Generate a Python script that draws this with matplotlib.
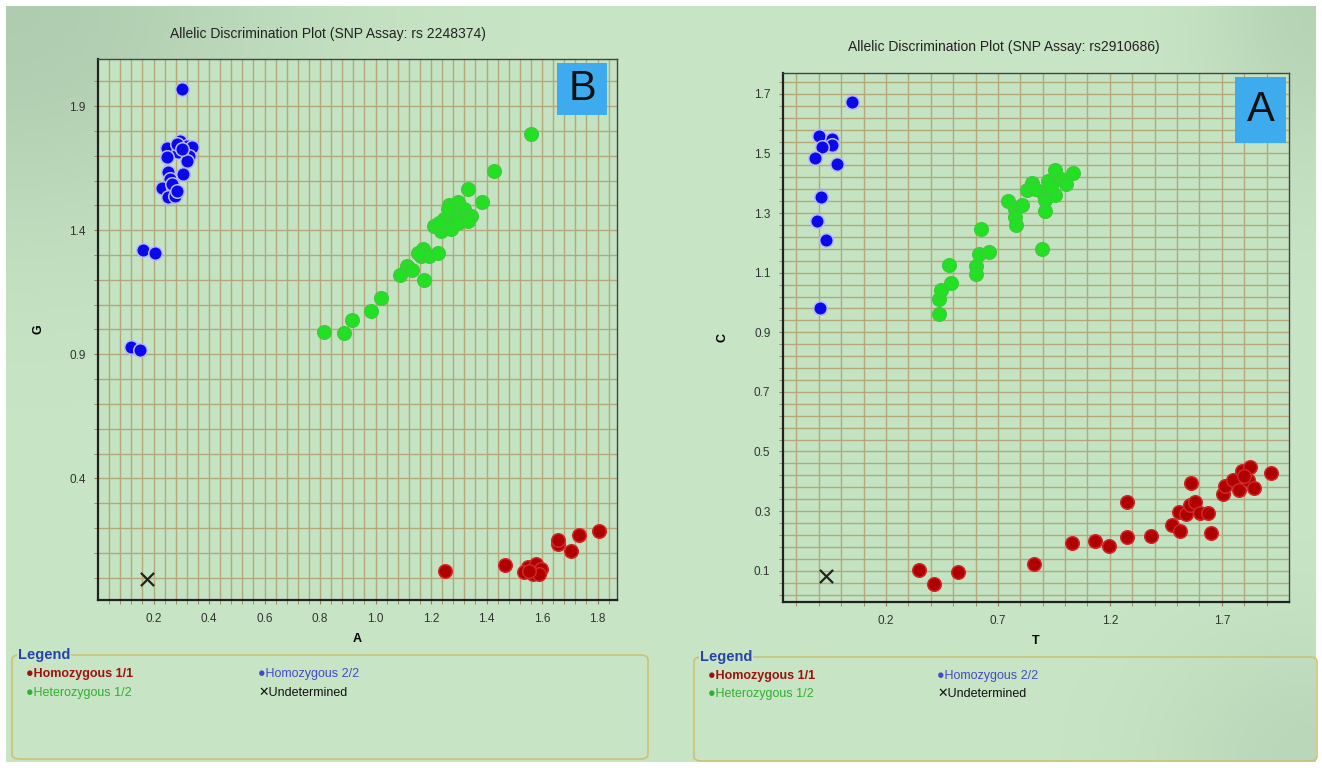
#!/usr/bin/env python3
"""Two allelic discrimination scatter plots (SNP assays) side by side."""

import matplotlib

matplotlib.use("Agg")
import matplotlib.pyplot as plt
from matplotlib.patches import FancyBboxPatch, Rectangle
from matplotlib.ticker import FixedLocator
import numpy as np

plt.rcParams["font.family"] = ["Liberation Sans", "DejaVu Sans"]

# ---- panel B: rs 2248374 (x = A, y = G) ----
b_hom11_x = [1.805, 1.733, 1.658, 1.657, 1.706, 1.467, 1.548, 1.578, 1.596, 1.536,
             1.566, 1.590, 1.554, 1.250]
b_hom11_y = [0.189, 0.172, 0.136, 0.153, 0.106, 0.051, 0.041, 0.055, 0.034, 0.021,
             0.014, 0.014, 0.028, 0.028]
b_hom22_x = [0.304, 0.294, 0.319, 0.337, 0.250, 0.290, 0.329, 0.247, 0.319, 0.308,
             0.254, 0.258, 0.229, 0.272, 0.254, 0.276, 0.283, 0.301, 0.265, 0.283,
             0.163, 0.205, 0.118, 0.153]
b_hom22_y = [1.971, 1.760, 1.740, 1.736, 1.732, 1.716, 1.700, 1.696, 1.679, 1.627,
             1.635, 1.606, 1.570, 1.574, 1.534, 1.538, 1.748, 1.728, 1.587, 1.558,
             1.319, 1.310, 0.928, 0.918]
b_het_x = [1.560, 1.428, 1.332, 1.383, 1.266, 1.296, 1.320, 1.344, 1.314, 1.278,
           1.248, 1.212, 1.236, 1.272, 1.296, 1.332, 1.260, 1.230, 1.170, 1.164,
           1.194, 1.224, 1.152, 1.114, 1.132, 1.089, 1.174, 1.018, 0.984, 0.915,
           0.813, 0.888]
b_het_y = [1.786, 1.640, 1.566, 1.515, 1.501, 1.512, 1.485, 1.458, 1.445, 1.458,
           1.445, 1.418, 1.397, 1.404, 1.431, 1.438, 1.485, 1.431, 1.323, 1.296,
           1.296, 1.310, 1.310, 1.256, 1.239, 1.218, 1.199, 1.127, 1.073, 1.040,
           0.990, 0.986]
b_und_x = [0.178]
b_und_y = [-0.005]

# ---- panel A: rs2910686 (x = T, y = C) ----
a_hom11_x = [0.346, 0.416, 0.520, 0.860, 1.029, 1.134, 1.195, 1.275, 1.278, 1.382,
             1.477, 1.515, 1.507, 1.540, 1.560, 1.581, 1.563, 1.601, 1.638, 1.651,
             1.706, 1.713, 1.751, 1.776, 1.792, 1.825, 1.817, 1.845, 1.921, 1.800]
a_hom11_y = [0.102, 0.057, 0.096, 0.122, 0.193, 0.201, 0.182, 0.330, 0.212, 0.218,
             0.255, 0.232, 0.296, 0.291, 0.320, 0.331, 0.395, 0.294, 0.292, 0.227,
             0.358, 0.384, 0.403, 0.372, 0.434, 0.448, 0.406, 0.378, 0.428, 0.417]
a_hom22_x = [0.047, -0.101, -0.042, -0.042, -0.086, -0.119, -0.020, -0.089, -0.108,
             -0.069, -0.096]
a_hom22_y = [1.672, 1.557, 1.549, 1.529, 1.521, 1.485, 1.465, 1.354, 1.275, 1.210,
             0.982]
a_het_x = [0.435, 0.438, 0.445, 0.482, 0.492, 0.600, 0.604, 0.615, 0.659, 0.625,
           0.747, 0.774, 0.806, 0.777, 0.781, 0.850, 0.828, 0.895, 0.924, 0.954,
           0.910, 0.910, 0.954, 0.983, 1.005, 1.035, 0.898, 0.939, 0.865]
a_het_y = [0.962, 1.011, 1.041, 1.127, 1.065, 1.123, 1.095, 1.163, 1.168, 1.247,
           1.341, 1.315, 1.326, 1.287, 1.261, 1.401, 1.377, 1.371, 1.408, 1.444,
           1.343, 1.307, 1.360, 1.416, 1.399, 1.436, 1.180, 1.388, 1.382]
a_und_x = [-0.070]
a_und_y = [0.081]

categories = ["Homozygous 1/1", "Heterozygous 1/2", "Homozygous 2/2", "Undetermined"]
cat_face = {"Homozygous 1/1": "#b00000", "Heterozygous 1/2": "#22e022",
            "Homozygous 2/2": "#0a0ae8"}
cat_edge = {"Homozygous 1/1": "#d02828", "Heterozygous 1/2": "#3ccc3c",
            "Homozygous 2/2": "#b8b8ff"}
cat_text = {"Homozygous 1/1": "#a01010", "Heterozygous 1/2": "#30b030",
            "Homozygous 2/2": "#4848c8", "Undetermined": "#111111"}

W, H = 1322, 768
BG = "#c8e5c5"
PLOT_BG = "#c4e3c3"
GRID = "#b4a87a"


def fx(px):
    return px / W


def fy(py):
    return 1 - py / H


fig = plt.figure(figsize=(W / 100, H / 100), dpi=100, facecolor="white")

# background with a soft gradient
bg = fig.add_axes([fx(6), fy(762), fx(1310), 756 / H], zorder=-10)
gx, gy = np.meshgrid(np.linspace(0, 1, 300), np.linspace(0, 1, 200))
shade = np.exp(-((gx / 0.22) ** 2 + (gy / 0.3) ** 2)) * 0.7 + \
    np.exp(-(((1 - gx) / 0.08) ** 2 + (gy / 0.22) ** 2)) * 0.5 + \
    np.exp(-(((1 - gx) / 0.12) ** 2 + ((1 - gy) / 0.18) ** 2)) * 0.4
base = np.array(matplotlib.colors.to_rgb(BG))
dark = np.array(matplotlib.colors.to_rgb("#a6c2a8"))
img = base[None, None, :] * (1 - shade[..., None]) + dark[None, None, :] * shade[..., None]
bg.imshow(np.clip(img, 0, 1), aspect="auto", extent=[0, 1, 1, 0])
bg.set_axis_off()


def draw_panel(rect, title, title_xy, xlab, ylab, xlim, ylim, xmaj, xmin, ymaj, ymin,
               data, box_rect, box_letter):
    ax = fig.add_axes(rect)
    ax.set_facecolor(PLOT_BG)
    ax.set_xlim(*xlim)
    ax.set_ylim(*ylim)
    ax.xaxis.set_major_locator(FixedLocator(xmaj))
    ax.xaxis.set_minor_locator(FixedLocator(xmin))
    ax.yaxis.set_major_locator(FixedLocator(ymaj))
    ax.yaxis.set_minor_locator(FixedLocator(ymin))
    ax.set_xticklabels([f"{v:.1f}" for v in xmaj])
    ax.set_yticklabels([f"{v:.1f}" for v in ymaj])
    ax.grid(which="both", color=GRID, linewidth=1.0, zorder=0)
    ax.set_axisbelow(True)
    ax.tick_params(which="both", direction="out", length=3, color="#8c8060",
                   labelsize=8.5, labelcolor="#333333", pad=6)
    for side in ["left", "bottom"]:
        ax.spines[side].set_color("#222222")
        ax.spines[side].set_linewidth(1.6)
    for side in ["right", "top"]:
        ax.spines[side].set_color("#444444")
        ax.spines[side].set_linewidth(1.0)
    ax.set_xlabel(xlab, fontsize=9, fontweight="bold", labelpad=6)
    ax.set_ylabel(ylab, fontsize=9, fontweight="bold", labelpad=18)

    for cat, (xs, ys) in data.items():
        if cat == "Undetermined":
            ax.scatter(xs, ys, marker="x", s=90, color="#222222", linewidths=1.6,
                       zorder=3)
        else:
            ax.scatter(xs, ys, s=95, color=cat_face[cat], edgecolors=cat_edge[cat],
                       linewidths=1.1, zorder=3)

    fig.text(fx(title_xy[0]), fy(title_xy[1]), title, ha="center", va="center",
             fontsize=10, color="#222222")

    bx, by, bw, bh = box_rect
    fig.patches.append(Rectangle((fx(bx), fy(by + bh)), bw / W, bh / H,
                                 transform=fig.transFigure, facecolor="#3fabef",
                                 edgecolor="none", zorder=5))
    fig.text(fx(bx + bw / 2), fy(by + bh / 2), box_letter, ha="center",
             va="center", fontsize=30, color="#111111", zorder=6)
    return ax


def draw_legend(x0, y0, x1, y1, col_x, row_y):
    fig.patches.append(FancyBboxPatch((fx(x0), fy(y1)), (x1 - x0) / W, (y1 - y0) / H,
                                      boxstyle="round,pad=0,rounding_size=0.006",
                                      transform=fig.transFigure, facecolor="none",
                                      edgecolor="#c8c27a", linewidth=1.2))
    fig.text(fx(x0 + 6), fy(y0), "Legend", ha="left", va="center", fontsize=10.5,
             fontweight="bold", color="#2844a8",
             bbox=dict(facecolor=BG, edgecolor="none", pad=0.5))
    for i, cat in enumerate(categories):
        cx, cy = col_x[i // 2], row_y[i % 2]
        glyph = "✕" if cat == "Undetermined" else "●"
        weight = "bold" if cat == "Homozygous 1/1" else "normal"
        fig.text(fx(cx), fy(cy), glyph + cat, ha="left", va="center", fontsize=9,
                 color=cat_text[cat], fontweight=weight,
                 family=["Liberation Sans", "DejaVu Sans"])


draw_panel([fx(98), fy(600), (617 - 98) / W, (600 - 59) / H],
           "Allelic Discrimination Plot (SNP Assay: rs 2248374)", (328, 34), "A", "G",
           (0.0, 1.87), (-0.09, 2.09),
           [0.2, 0.4, 0.6, 0.8, 1.0, 1.2, 1.4, 1.6, 1.8], np.arange(0.04, 1.87, 0.04),
           [0.4, 0.9, 1.4, 1.9], np.arange(0.0, 2.09, 0.1),
           {"Homozygous 1/1": (b_hom11_x, b_hom11_y),
            "Heterozygous 1/2": (b_het_x, b_het_y),
            "Homozygous 2/2": (b_hom22_x, b_hom22_y),
            "Undetermined": (b_und_x, b_und_y)},
           (557, 63, 50, 52), "B")

draw_panel([fx(783), fy(602), (1289 - 783) / W, (602 - 73) / H],
           "Allelic Discrimination Plot (SNP Assay: rs2910686)", (1004, 47), "T", "C",
           (-0.26, 2.0), (-0.005, 1.77),
           [0.2, 0.7, 1.2, 1.7], np.arange(-0.2, 2.0, 0.1),
           [0.1, 0.3, 0.5, 0.7, 0.9, 1.1, 1.3, 1.5, 1.7], np.arange(0.02, 1.77, 0.04),
           {"Homozygous 1/1": (a_hom11_x, a_hom11_y),
            "Heterozygous 1/2": (a_het_x, a_het_y),
            "Homozygous 2/2": (a_hom22_x, a_hom22_y),
            "Undetermined": (a_und_x, a_und_y)},
           (1235, 77, 51, 66), "A")

draw_legend(12, 655, 648, 759, [26, 258], [674, 693])
draw_legend(694, 657, 1317, 761, [708, 937], [676, 694])

fig.savefig("out.png", dpi=100, facecolor="white")
plt.close(fig)
